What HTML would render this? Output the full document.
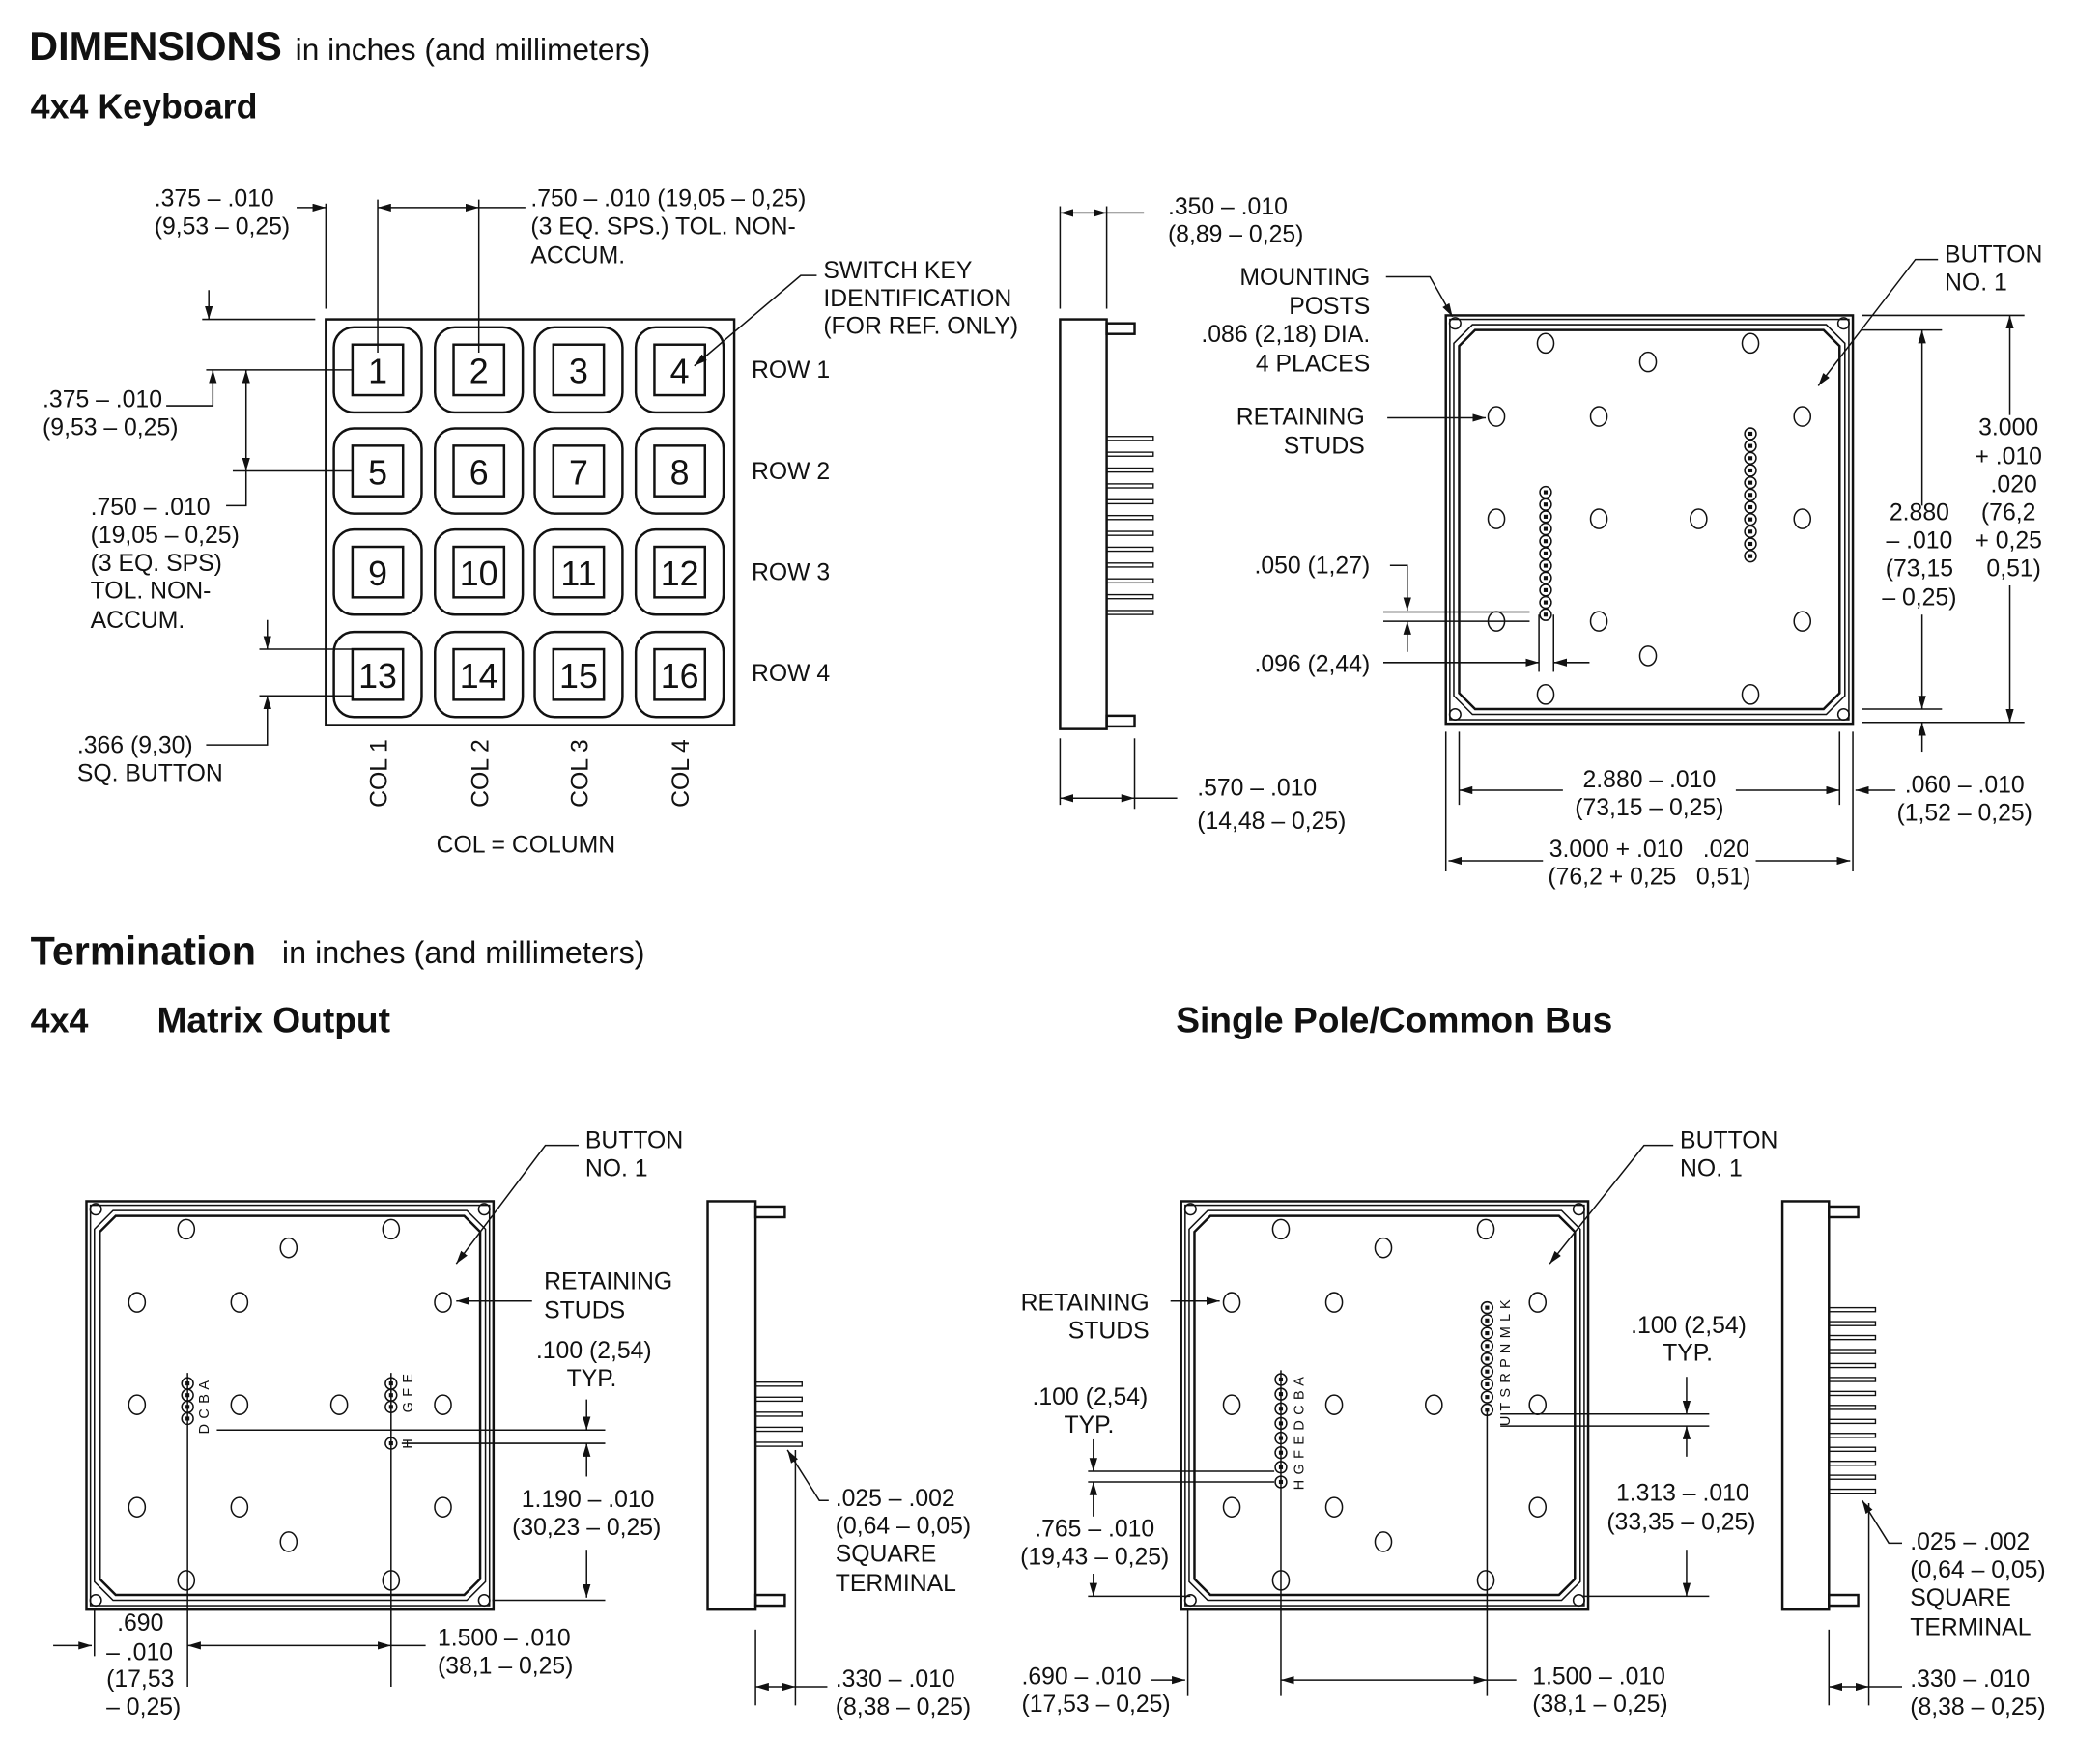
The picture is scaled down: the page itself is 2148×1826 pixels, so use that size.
<!DOCTYPE html>
<html><head><meta charset="utf-8"><style>
html,body{margin:0;padding:0;background:#fff}
svg{display:block}
text{font-family:"Liberation Sans",Arial,sans-serif;font-size:18px;fill:#111}
.b{font-weight:bold}
.r{text-anchor:end}.m{text-anchor:middle}
.k{font-size:26px;text-anchor:middle}
.p{font-size:10.5px;letter-spacing:0.5px}
.l{stroke:#111;stroke-width:1.1;fill:none}
.t{stroke:#111;stroke-width:1.8;fill:none}
</style></head><body>
<svg id="s" width="2148" height="1826" viewBox="0 0 1560 1326" xmlns="http://www.w3.org/2000/svg">
<defs>
<marker id="a" viewBox="0 0 10 6" refX="10" refY="3" markerWidth="10" markerHeight="6" markerUnits="userSpaceOnUse" orient="auto-start-reverse"><path d="M0,0L10,3L0,6z" fill="#111"/></marker>
</defs>
<g id="g"></g>
<!-- headings -->
<text x="22" y="45" class="b" style="font-size:30px">DIMENSIONS</text>
<text x="222" y="45" style="font-size:23px">in inches (and millimeters)</text>
<text x="23" y="89" class="b" style="font-size:26px">4x4 Keyboard</text>
<text x="23" y="725" class="b" style="font-size:30px">Termination</text>
<text x="212" y="724" style="font-size:23.5px">in inches (and millimeters)</text>
<text x="23" y="776" class="b" style="font-size:26px">4x4</text>
<text x="118" y="776" class="b" style="font-size:27px">Matrix Output</text>
<text x="884" y="776" class="b" style="font-size:27px">Single Pole/Common Bus</text>

<!-- keypad labels -->
<text class="k" x="284" y="288">1</text><text class="k" x="360" y="288">2</text><text class="k" x="435" y="288">3</text><text class="k" x="511" y="288">4</text>
<text class="k" x="284" y="364">5</text><text class="k" x="360" y="364">6</text><text class="k" x="435" y="364">7</text><text class="k" x="511" y="364">8</text>
<text class="k" x="284" y="440">9</text><text class="k" x="360" y="440">10</text><text class="k" x="435" y="440">11</text><text class="k" x="511" y="440">12</text>
<text class="k" x="284" y="517">13</text><text class="k" x="360" y="517">14</text><text class="k" x="435" y="517">15</text><text class="k" x="511" y="517">16</text>
<text x="565" y="284">ROW 1</text><text x="565" y="360">ROW 2</text><text x="565" y="436">ROW 3</text><text x="565" y="512">ROW 4</text>
<text transform="translate(291,607) rotate(-90)">COL 1</text>
<text transform="translate(367,607) rotate(-90)">COL 2</text>
<text transform="translate(442,607) rotate(-90)">COL 3</text>
<text transform="translate(518,607) rotate(-90)">COL 4</text>
<text x="328" y="641">COL = COLUMN</text>
<text x="116" y="155">.375 – .010</text><text x="116" y="176">(9,53 – 0,25)</text>
<text x="399" y="155">.750 – .010 (19,05 – 0,25)</text><text x="399" y="176">(3 EQ. SPS.) TOL. NON-</text><text x="399" y="198">ACCUM.</text>
<text x="619" y="209">SWITCH KEY</text><text x="619" y="230">IDENTIFICATION</text><text x="619" y="251">(FOR REF. ONLY)</text>
<text x="32" y="306">.375 – .010</text><text x="32" y="327">(9,53 – 0,25)</text>
<text x="68" y="387">.750 – .010</text><text x="68" y="408">(19,05 – 0,25)</text><text x="68" y="429">(3 EQ. SPS)</text><text x="68" y="450">TOL. NON-</text><text x="68" y="472">ACCUM.</text>
<text x="58" y="566">.366 (9,30)</text><text x="58" y="587">SQ. BUTTON</text>

<text x="878" y="161">.350 – .010</text><text x="878" y="182">(8,89 – 0,25)</text>
<text x="900" y="598">.570 – .010</text><text x="900" y="623">(14,48 – 0,25)</text>
<text x="1030" y="214" class="r">MOUNTING</text><text x="1030" y="236" class="r">POSTS</text><text x="1030" y="257" class="r">.086 (2,18) DIA.</text><text x="1030" y="279" class="r">4 PLACES</text>
<text x="1026" y="319" class="r">RETAINING</text><text x="1026" y="341" class="r">STUDS</text>
<text x="943" y="431">.050 (1,27)</text><text x="943" y="505">.096 (2,44)</text>
<text x="1462" y="197">BUTTON</text><text x="1462" y="218">NO. 1</text>
<text class="m" x="1443" y="391">2.880</text><text class="m" x="1443" y="412">– .010</text><text class="m" x="1443" y="433">(73,15</text><text class="m" x="1443" y="455">– 0,25)</text>
<text class="m" x="1510" y="327">3.000</text><text class="m" x="1510" y="349">+ .010</text><text class="m" x="1514" y="370">.020</text><text class="m" x="1510" y="391">(76,2</text><text class="m" x="1510" y="412">+ 0,25</text><text class="m" x="1514" y="433">0,51)</text>
<text class="m" x="1240" y="592">2.880 – .010</text><text class="m" x="1240" y="613">(73,15 – 0,25)</text>
<text class="m" x="1240" y="644" xml:space="preserve">3.000 + .010   .020</text><text class="m" x="1240" y="665" xml:space="preserve">(76,2 + 0,25   0,51)</text>
<text x="1432" y="596">.060 – .010</text><text x="1426" y="617">(1,52 – 0,25)</text>

<text x="440" y="863">BUTTON</text><text x="440" y="884">NO. 1</text>
<text x="409" y="969">RETAINING</text><text x="409" y="991">STUDS</text>
<text x="403" y="1021">.100 (2,54)</text><text x="426" y="1042">TYP.</text>
<text x="392" y="1133">1.190 – .010</text><text x="385" y="1154">(30,23 – 0,25)</text>
<text x="88" y="1226">.690</text><text x="80" y="1248">– .010</text><text x="80" y="1268">(17,53</text><text x="80" y="1289">– 0,25)</text>
<text x="329" y="1237">1.500 – .010</text><text x="329" y="1258">(38,1 – 0,25)</text>
<text x="628" y="1132">.025 – .002</text><text x="628" y="1153">(0,64 – 0,05)</text><text x="628" y="1174">SQUARE</text><text x="628" y="1196">TERMINAL</text>
<text x="628" y="1268">.330 – .010</text><text x="628" y="1289">(8,38 – 0,25)</text>
<text class="p" transform="translate(157,1078) rotate(-90)">D C B A</text>
<text class="p" transform="translate(310,1062) rotate(-90)">G F E</text>
<text class="p" transform="translate(310,1089) rotate(-90)">H</text>
<text class="p" transform="translate(980,1120) rotate(-90)">H G F E D C B A</text>
<text class="p" transform="translate(1135,1072) rotate(-90)">U T S R P N M L K</text>
<text x="1263" y="863">BUTTON</text><text x="1263" y="884">NO. 1</text>
<text x="864" y="985" class="r">RETAINING</text><text x="864" y="1006" class="r">STUDS</text>
<text x="1226" y="1002">.100 (2,54)</text><text x="1250" y="1023">TYP.</text>
<text x="1215" y="1128">1.313 – .010</text><text x="1208" y="1150">(33,35 – 0,25)</text>
<text x="776" y="1056">.100 (2,54)</text><text x="800" y="1077">TYP.</text>
<text x="778" y="1155">.765 – .010</text><text x="767" y="1176">(19,43 – 0,25)</text>
<text x="768" y="1266">.690 – .010</text><text x="768" y="1287">(17,53 – 0,25)</text>
<text x="1152" y="1266">1.500 – .010</text><text x="1152" y="1287">(38,1 – 0,25)</text>
<text x="1436" y="1165">.025 – .002</text><text x="1436" y="1186">(0,64 – 0,05)</text><text x="1436" y="1207">SQUARE</text><text x="1436" y="1229">TERMINAL</text>
<text x="1436" y="1268">.330 – .010</text><text x="1436" y="1289">(8,38 – 0,25)</text>
</svg>
<script>
var g=document.getElementById('g'),h='';
function L(x1,y1,x2,y2,c){h+='<line class="l" x1="'+x1+'" y1="'+y1+'" x2="'+x2+'" y2="'+y2+'"'+(c==1?' marker-end="url(#a)"':c==2?' marker-start="url(#a)" marker-end="url(#a)"':'')+'/>';}
function P(d,c){h+='<polyline class="l" points="'+d+'"'+(c?' marker-end="url(#a)"':'')+'/>';}
function R(x,y,w,hh,cl,rx){h+='<rect class="'+(cl||'l')+'" x="'+x+'" y="'+y+'" width="'+w+'" height="'+hh+'"'+(rx?' rx="'+rx+'"':'')+' fill="#fff"/>';}
function C(x,y,r,ry){h+='<ellipse class="l" cx="'+x+'" cy="'+y+'" rx="'+r+'" ry="'+(ry||r)+'" fill="#fff"/>';}
function pin(x,y){h+='<circle class="l" cx="'+x+'" cy="'+y+'" r="4.3" fill="#fff"/><rect x="'+(x-1.5)+'" y="'+(y-1.5)+'" width="3" height="3" fill="#111"/>';}
function term(x,y,w){h+='<rect x="'+x+'" y="'+y+'" width="'+w+'" height="3" fill="none" stroke="#111" stroke-width="1"/>';}
R(245,240,307,305,'t');
var cx=[284,360,435,511],cy=[278,354,430,507];
cy.forEach(function(y){cx.forEach(function(x){R(x-33,y-32,66,64,'t',15);R(x-19,y-19,38,38,'t');});});
L(245,153,245,232);L(284,150,284,265);L(360,150,360,265);
L(223,156,245,156,1);L(284,156,360,156,2);L(360,156,395,156);
P('614,207 602,207 522,275',1);
L(152,240,237,240);L(157,218,157,240,1);
L(155,278,265,278);L(160,300,160,278,1);P('125,305 160,305 160,300');
L(175,354,265,354);L(185,278,185,354,2);P('170,380 185,380 185,354');
L(195,488,265,488);L(195,523,265,523);L(201,466,201,488,1);L(201,545,201,523,1);P('155,560 201,560 201,545');
R(797,240,35,308,'t');R(832,243,21,8,'t');R(832,538,21,8,'t');
for(var i=0;i<12;i++)term(832,328+i*11.9,35);
L(797,155,797,232);L(832,155,832,232);L(797,160,832,160,2);L(832,160,860,160);
L(797,555,797,605);L(853,555,853,608);L(797,600,853,600,2);L(853,600,885,600);
function board(x0,y0){R(x0,y0,306,307,'t');R(x0+3,y0+3,300,301);
var a=x0+10,b=y0+11,c=x0+296,d=y0+296,k=12;
h+='<path class="t" d="M'+(a+k)+','+b+'H'+(c-k)+'L'+c+','+(b+k)+'V'+(d-k)+'L'+(c-k)+','+d+'H'+(a+k)+'L'+a+','+(d-k)+'V'+(b+k)+'z"/>';
h+='<path class="l" d="M'+(a+k-2)+','+(b-4)+'H'+(c-k+2)+'L'+(c+4)+','+(b+k-2)+'V'+(d-k+2)+'L'+(c-k+2)+','+(d+4)+'H'+(a+k-2)+'L'+(a-4)+','+(d-k+2)+'V'+(b+k-2)+'z"/>';
[[7,6],[299,6],[7,300],[299,300]].forEach(function(p){C(x0+p[0],y0+p[1],4.2);});
[[75,21],[152,35],[229,21],[38,76],[115,76],[268,76],[38,153],[115,153],[190,153],[268,153],[38,230],[115,230],[268,230],[152,256],[75,285],[229,285]].forEach(function(p){C(x0+p[0],y0+p[1],6.2,7.3);});}
board(1087,237);
for(i=0;i<11;i++){pin(1162,370+i*9.2);pin(1316,326+i*9.2);}
P('1042,208 1075,208 1092,238',1);L(1043,314,1117,314,1);P('1457,195 1440,195 1367,290',1);
P('1045,425 1058,425 1058,459',1);L(1040,460,1150,460);L(1040,467,1150,467);L(1058,490,1058,467,1);
L(1157,462,1157,505);L(1168,462,1168,505);L(1040,498,1157,498,1);L(1195,498,1168,498,1);
L(1400,237,1522,237);L(1400,248,1460,248);L(1400,533,1460,533);L(1400,543,1522,543);
L(1445,380,1445,248,1);L(1445,462,1445,533,1);L(1511,312,1511,237,1);L(1511,440,1511,543,1);L(1445,565,1445,543,1);
L(1087,550,1087,655);L(1097,550,1097,605);L(1383,550,1383,605);L(1393,550,1393,655);
L(1175,594,1097,594,1);L(1305,594,1383,594,1);L(1425,594,1395,594,1);
L(1160,647,1089,647,1);L(1320,647,1391,647,1);
board(65,903);
for(i=0;i<4;i++)pin(141,1040+i*8.8);for(i=0;i<3;i++)pin(294,1040+i*8.8);pin(294,1085);
L(141,1032,141,1268);L(294,1032,294,1268);
P('435,861 410,861 343,950',1);L(400,978,343,978,1);
L(163,1075,455,1075);L(302,1085,455,1085);L(441,1052,441,1075,1);L(441,1110,441,1085,1);L(441,1165,441,1201,1);L(370,1203,455,1203);
L(71,1210,71,1245);L(40,1237,69,1237,1);L(141,1237,294,1237,2);L(294,1237,320,1237);
R(532,903,36,307,'t');R(568,907,22,8,'t');R(568,1199,22,8,'t');
for(i=0;i<5;i++)term(568,1039+i*11.3,35);
P('623,1128 616,1128 592,1090',1);L(568,1225,568,1282);L(598,1090,598,1282);L(568,1268,598,1268,2);L(598,1268,622,1268);
board(888,903);
for(i=0;i<8;i++)pin(963,1037+i*11);for(i=0;i<9;i++)pin(1118,983+i*9.6);
L(963,1030,963,1275);L(1118,1060,1118,1275);
P('1258,861 1236,861 1165,950',1);L(880,978,917,978,1);
L(1128,1063,1285,1063);L(1128,1072,1285,1072);L(1268,1035,1268,1063,1);L(1268,1095,1268,1072,1);L(1268,1165,1268,1200,1);L(1190,1200,1285,1200);
L(818,1106,958,1106);L(818,1114,958,1114);L(822,1082,822,1106,1);L(822,1140,822,1114,1);L(822,1183,822,1200,1);L(818,1200,895,1200);
L(893,1210,893,1275);L(865,1263,891,1263,1);L(963,1263,1118,1263,2);L(1118,1263,1140,1263);
R(1340,903,35,307,'t');R(1375,907,22,8,'t');R(1375,1199,22,8,'t');
for(i=0;i<14;i++)term(1375,983+i*10.5,35);
P('1430,1160 1420,1160 1400,1128',1);L(1375,1225,1375,1282);L(1405,1130,1405,1282);L(1375,1268,1405,1268,2);L(1405,1268,1430,1268);
g.innerHTML=h;
</script>
</body></html>
